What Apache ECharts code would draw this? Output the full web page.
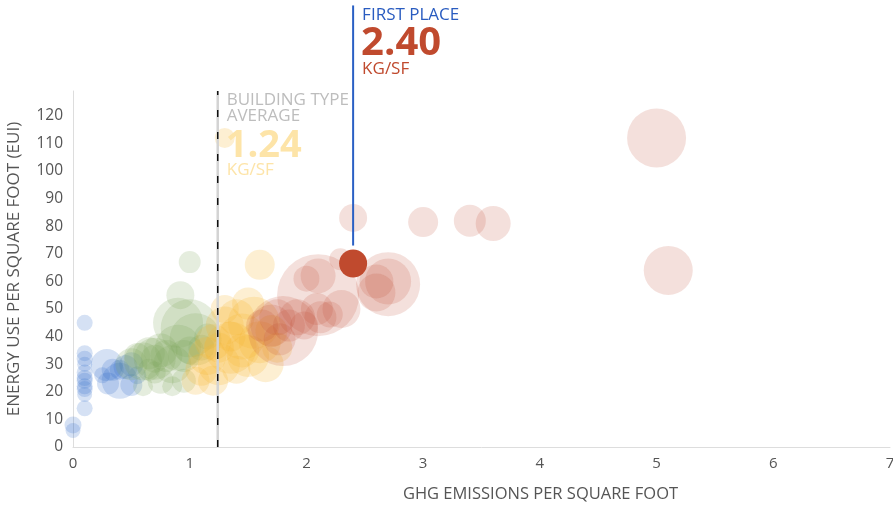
<!DOCTYPE html>
<html><head><meta charset="utf-8">
<script src="https://cdn.jsdelivr.net/npm/echarts@6/dist/echarts.min.js"></script>
<style>html,body{margin:0;padding:0;background:#fff}#c{width:893px;height:506px}</style>
</head><body><div id="c"></div>
<script>
// [ghg per sf, eui, bubble size]
const bluePts = [
[0.0,8,17],[0.0,6,15],
[0.1,45,16],[0.1,34,16],[0.1,32,16],[0.1,30,15],[0.1,27,16],[0.1,25,16],[0.1,24,16],[0.1,22,16],[0.1,21,16],[0.1,19,15],[0.1,14,16],
[0.29,29.7,32],[0.34,28,22],[0.4,28,20],[0.45,29,24],[0.4,24,36],[0.3,23,22],[0.5,30,24],[0.5,22.5,22],[0.25,26,16],[0.55,26,18]
];
const greenPts = [
[0.5,30,32],[0.55,33,26],[0.6,31,38],[0.65,34,32],[0.7,32,42],[0.75,35,34],[0.8,33,32],[0.85,30,38],[0.9,36,46],[0.95,33,32],
[1.0,43,58],[1.05,39,52],[0.9,45,50],[1.0,35,28],[1.1,36,26],[0.6,22,20],[0.75,24,26],[0.85,22,20],[0.95,24,24],[0.7,27,22],
[0.92,55,28],[1.0,67,22],[1.15,40,26],[0.65,28,22],[0.7,32,28]
];
const yellowPts = [
[1.1,28,32],[1.15,33,38],[1.2,38,36],[1.25,30,42],[1.3,44,38],[1.35,36,52],[1.4,47,36],[1.45,40,46],[1.5,33,42],[1.55,45,52],
[1.6,38,42],[1.65,30,36],[1.2,24,30],[1.05,24,28],[1.4,28,28],[1.7,42,32],[1.3,50,28],[1.6,66,30],[1.3,112,20],[1.5,52,32],
[1.75,36,30],[1.35,40,30],[1.45,35,34],[1.25,36,30]
];
const redPts = [
[1.62,44,32],[1.7,44,42],[1.8,42,70],[1.77,39,32],[1.75,47,36],[1.85,44,32],[1.92,47,36],[1.98,44,28],[2.09,50,32],[2.12,47,32],
[2.1,55,82],[2.0,61,26],[2.1,62,35],[2.3,50,38],[2.29,68,22],[2.2,48,26],[2.6,60,34],[2.6,56,38],[2.7,60,46],[2.7,59,64],
[2.4,83,28],[3.0,81.5,30],[3.4,82,32],[3.6,81,35],[5.0,112,59],[5.1,64,49]
];
const firstPlacePt = [[2.40,66.5,28]];
const avgValue = 1.24;
const firstValue = 2.40;
const xTicks = [0,1,2,3,4,5,6,7];

const chart = echarts.init(document.getElementById('c'), null, {renderer:'canvas'});
const FONT = 'Open Sans';
function bubble(name, data, color, op){
  return {name, type:'scatter', data, symbolSize:d=>d[2],
    itemStyle:{color, opacity:op}, silent:true, z:2};
}
chart.setOption({
  animation:false,
  textStyle:{fontFamily:FONT},
  grid:{left:73, right:3, top:91, bottom:59, containLabel:false, outerBoundsMode:'none'},
  xAxis:{type:'value', min:xTicks[0], max:xTicks[xTicks.length-1], interval:1,
    name:'GHG EMISSIONS PER SQUARE FOOT', nameLocation:'middle', nameGap:39,
    nameTextStyle:{color:'#555', fontSize:16.5, fontFamily:FONT, padding:[0,0,0,118]},
    axisLine:{show:true, lineStyle:{color:'#ddd', width:1}}, axisTick:{show:false},
    splitLine:{show:false},
    axisLabel:{color:'#555', fontSize:15, margin:9, fontFamily:FONT}},
  yAxis:{type:'value', min:0, max:129, interval:10,
    name:'ENERGY USE PER SQUARE FOOT (EUI)', nameLocation:'middle', nameGap:50,
    nameTextStyle:{color:'#555', fontSize:17, fontFamily:FONT},
    axisLine:{show:true, lineStyle:{color:'#ddd', width:1}}, axisTick:{show:false},
    splitLine:{show:false},
    axisLabel:{color:'#555', fontSize:15.5, margin:10, fontFamily:FONT, showMaxLabel:false,
      verticalAlign:'middle', padding:[3,0,0,0],
      formatter:v=> (v%10===0? String(v):'')}},
  series:[
    bubble('blue', bluePts, '#2f68c9', 0.2),
    bubble('green', greenPts, '#7ea65a', 0.2),
    bubble('yellow', yellowPts, '#f5b733', 0.22),
    bubble('red', redPts, '#c0492e', 0.17),
    {type:'line', data:[[avgValue,0],[avgValue,129]], symbol:'none', silent:true, z:5,
      lineStyle:{color:'#d3d3d3', width:2.5}},
    {type:'line', data:[[avgValue,0],[avgValue,129]], symbol:'none', silent:true, z:6,
      lineStyle:{color:'#111', width:1.5, type:[7,15]}},
    {type:'line', data:[[firstValue,73],[firstValue,160]], symbol:'none', silent:true, clip:false, z:6,
      lineStyle:{color:'#2a60c4', width:2}},
    {type:'scatter', data:firstPlacePt, symbolSize:d=>d[2], silent:true, z:7,
      itemStyle:{color:'#c04a2e', opacity:1}}
  ]
});
const ax = chart.convertToPixel({gridIndex:0}, [avgValue,0])[0];
const fx = chart.convertToPixel({gridIndex:0}, [firstValue,0])[0];
chart.setOption({graphic:[
  {type:'text', left:ax+9, top:92, z:100, style:{text:'BUILDING TYPE\nAVERAGE', fill:'#bdbdbd', font:'17px "Open Sans"', lineHeight:16}},
  {type:'text', left:ax+8, top:127, z:100, style:{text:'1.24', fill:'#fde4a8', font:'bold 38px "Open Sans"'}},
  {type:'text', left:ax+9, top:162, z:100, style:{text:'KG/SF', fill:'#fde4a8', font:'17px "Open Sans"'}},
  {type:'text', left:fx+9, top:7, z:100, style:{text:'FIRST PLACE', fill:'#2a5cc0', font:'17px "Open Sans"'}},
  {type:'text', left:fx+8, top:24, z:100, style:{text:'2.40', fill:'#c04a2e', font:'bold 40px "Open Sans"'}},
  {type:'text', left:fx+9, top:61, z:100, style:{text:'KG/SF', fill:'#c04a2e', font:'17px "Open Sans"'}}
]});
</script></body></html>
